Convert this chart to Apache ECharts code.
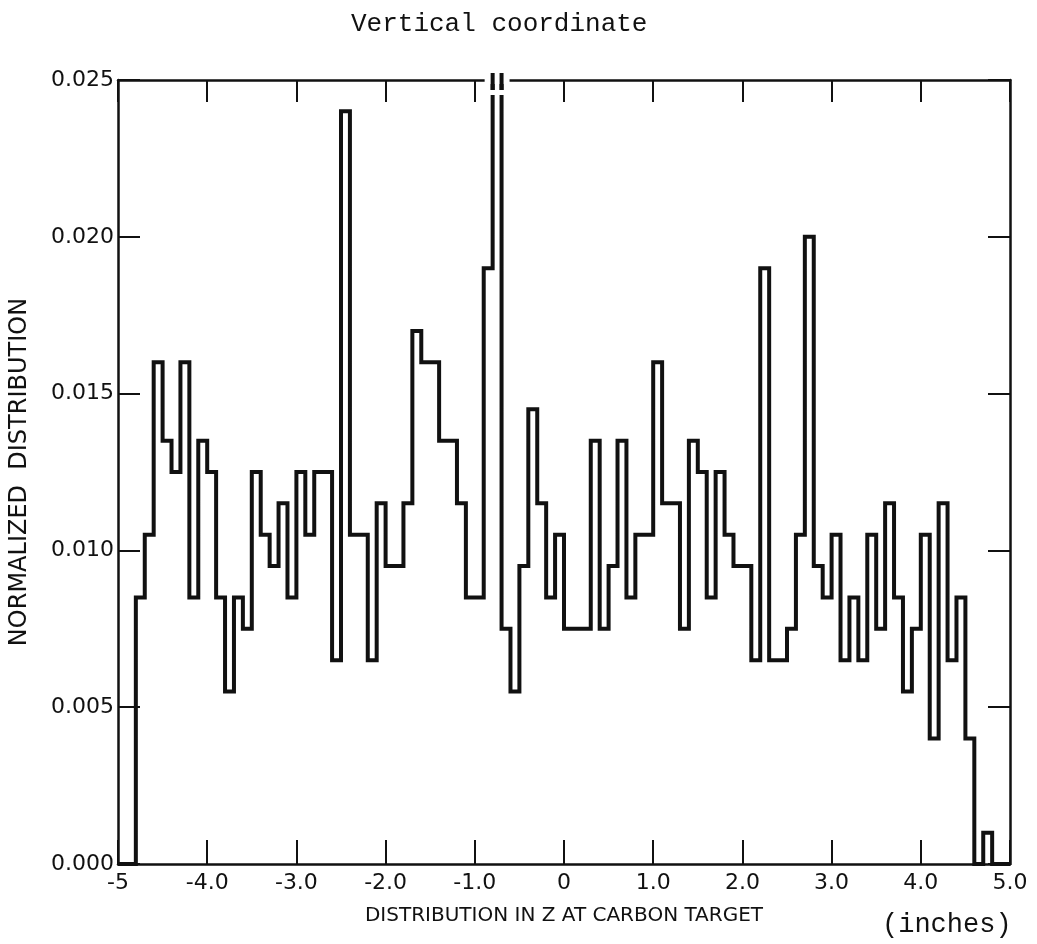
<!DOCTYPE html>
<html lang="en">
<head>
    <meta charset="UTF-8">
    <title>Distribution in Z at carbon target</title>
    <script src="https://cdn.jsdelivr.net/npm/echarts@6/dist/echarts.min.js"></script>
    <style>
        html, body { margin: 0; padding: 0; background: #fff; }
        #echart { width: 1037px; height: 944px; }
    </style>
</head>
<body>
<div id="echart"></div>
<script type="text/javascript">
    // histogram bins: 0.1 inch wide, from -5 to 5
    var binLow = -5.0;
    var binWidth = 0.1;
    var counts = [
        0, 0,
        0.0085, 0.0105, 0.016, 0.0135, 0.0125, 0.016, 0.0085, 0.0135, 0.0125, 0.0085,
        0.0055, 0.0085, 0.0075, 0.0125, 0.0105, 0.0095, 0.0115, 0.0085, 0.0125, 0.0105,
        0.0125, 0.0125, 0.0065, 0.024,
        0.0105, 0.0105, 0.0065, 0.0115, 0.0095, 0.0095, 0.0115, 0.017, 0.016, 0.016,
        0.0135, 0.0135, 0.0115, 0.0085, 0.0085, 0.019, 0.030, 0.0075, 0.0055, 0.0095,
        0.0145, 0.0115, 0.0085, 0.0105,
        0.0075, 0.0075, 0.0075, 0.0135, 0.0075, 0.0095, 0.0135, 0.0085, 0.0105, 0.0105,
        0.016, 0.0115, 0.0115, 0.0075, 0.0135, 0.0125, 0.0085, 0.0125, 0.0105, 0.0095,
        0.0095, 0.0065, 0.019, 0.0065, 0.0065,
        0.0075, 0.0105, 0.020, 0.0095, 0.0085, 0.0105, 0.0065, 0.0085, 0.0065, 0.0105,
        0.0075, 0.0115, 0.0085, 0.0055, 0.0075, 0.0105, 0.004, 0.0115, 0.0065, 0.0085,
        0.004, 0, 0.001,
        0, 0
    ];
    var offScaleBin = 42;   // bin that runs off the top (broken axis)
    var xTickLabels = ['-5', '-4.0', '-3.0', '-2.0', '-1.0', '0', '1.0', '2.0', '3.0', '4.0', '5.0'];
    var yTickLabels = ['0.000', '0.005', '0.010', '0.015', '0.020', '0.025'];

    var stepData = [];
    counts.forEach(function (v, i) {
        stepData.push([binLow + i * binWidth, v]);
        stepData.push([binLow + (i + 1) * binWidth, v]);
    });

    var ink = '#111';
    var sans = 'DejaVu Sans';
    var mono = 'Liberation Mono';

    var myEchart = echarts.init(document.getElementById('echart'));
    var option = {
        backgroundColor: '#fff',
        animation: false,
        title: [{
            text: 'Vertical coordinate',
            left: 346,
            top: 6,
            textStyle: {fontFamily: mono, fontSize: 26, fontWeight: 'normal', color: ink}
        }, {
            text: '(inches)',
            left: 877,
            top: 906,
            textStyle: {fontFamily: mono, fontSize: 27, fontWeight: 'normal', color: ink}
        }],
        grid: {left: 117, right: 27, top: 80, bottom: 80},
        xAxis: [{
            type: 'value',
            min: -5,
            max: 5,
            interval: 1,
            position: 'bottom',
            name: 'DISTRIBUTION IN Z AT CARBON TARGET',
            nameLocation: 'middle',
            nameGap: 42,
            nameTextStyle: {fontFamily: sans, fontSize: 20, color: ink},
            axisLine: {onZero: false, lineStyle: {color: ink, width: 2.5}},
            axisTick: {inside: true, length: 24, lineStyle: {color: ink, width: 2}},
            axisLabel: {
                fontFamily: sans, fontSize: 22, color: ink, margin: 8,
                showMinLabel: true, showMaxLabel: true,
                formatter: function (v) { return xTickLabels[Math.round(v + 5)]; }
            },
            splitLine: {show: false}
        }, {
            type: 'value',
            min: -5,
            max: 5,
            interval: 1,
            position: 'top',
            axisLine: {onZero: false, lineStyle: {color: ink, width: 2.5}},
            axisTick: {inside: true, length: 22, lineStyle: {color: ink, width: 2}},
            axisLabel: {show: false},
            splitLine: {show: false}
        }],
        yAxis: [{
            type: 'value',
            min: 0,
            max: 0.025,
            interval: 0.005,
            position: 'left',
            name: 'NORMALIZED  DISTRIBUTION',
            nameLocation: 'middle',
            nameGap: 86,
            nameRotate: 90,
            nameTextStyle: {fontFamily: sans, fontSize: 24, color: ink},
            axisLine: {onZero: false, lineStyle: {color: ink, width: 2.5}},
            axisTick: {inside: true, length: 22, lineStyle: {color: ink, width: 2}},
            axisLabel: {
                fontFamily: sans, fontSize: 22, color: ink, margin: 4,
                formatter: function (v) { return yTickLabels[Math.round(v / 0.005)]; }
            },
            splitLine: {show: false}
        }, {
            type: 'value',
            min: 0,
            max: 0.025,
            interval: 0.005,
            position: 'right',
            axisLine: {onZero: false, lineStyle: {color: ink, width: 2.5}},
            axisTick: {inside: true, length: 22, lineStyle: {color: ink, width: 2}},
            axisLabel: {show: false},
            splitLine: {show: false}
        }],
        series: [{
            type: 'line',
            data: stepData,
            showSymbol: false,
            clip: true,
            lineStyle: {color: ink, width: 4, join: 'miter'},
            z: 3
        }, {
            // broken-axis marks over the off-scale bin
            type: 'custom',
            clip: false,
            z: 5,
            data: [[binLow + offScaleBin * binWidth, binLow + (offScaleBin + 1) * binWidth]],
            renderItem: function (params, api) {
                var l = api.coord([api.value(0), 0.025]);
                var r = api.coord([api.value(1), 0.025]);
                return {
                    type: 'group',
                    children: [{
                        type: 'rect',
                        shape: {x: l[0] - 8, y: l[1] - 4, width: r[0] - l[0] + 16, height: 8},
                        style: {fill: '#fff'}
                    }, {
                        type: 'rect',
                        shape: {x: l[0] - 4, y: l[1] + 10, width: r[0] - l[0] + 8, height: 5},
                        style: {fill: '#fff'}
                    }, {
                        type: 'line',
                        shape: {x1: l[0], y1: l[1] - 7, x2: l[0], y2: l[1] + 10},
                        style: {stroke: ink, lineWidth: 4}
                    }, {
                        type: 'line',
                        shape: {x1: r[0], y1: r[1] - 7, x2: r[0], y2: r[1] + 10},
                        style: {stroke: ink, lineWidth: 4}
                    }]
                };
            }
        }]
    };
    myEchart.setOption(option);
</script>
</body>
</html>
